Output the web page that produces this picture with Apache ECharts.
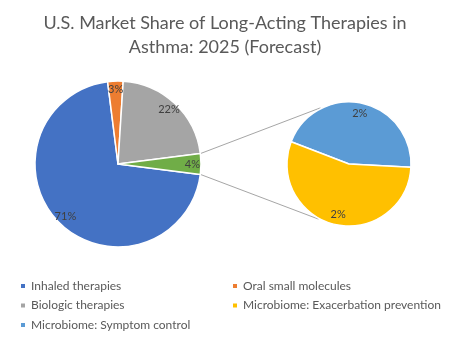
<!DOCTYPE html>
<html><head><meta charset="utf-8">
<script src="https://cdn.jsdelivr.net/npm/echarts@6/dist/echarts.min.js"></script>
<style>html,body{margin:0;padding:0;background:#fff}#c{width:450px;height:342px}</style>
</head><body><div id="c"></div>
<script>
const titleText = 'U.S. Market Share of Long-Acting Therapies in\nAsthma: 2025 (Forecast)';
const mainNames = ['Inhaled therapies', 'Oral small molecules', 'Biologic therapies'];
const mainValues = [71, 3, 22];
const mainColors = ['#4472C4', '#ED7D31', '#A5A5A5'];
const otherName = 'Microbiome';
const otherColor = '#70AD47';
const subNames = ['Microbiome: Symptom control', 'Microbiome: Exacerbation prevention'];
const subValues = [1.8, 2.2];
const subColors = ['#5B9BD5', '#FFC000'];

const FONT = 'Lato';
const mainC = [118, 164], mainR = 83;
const subC = [349, 164], subR = 62;
const otherVal = subValues.reduce((a, b) => a + b, 0);
const total = mainValues.reduce((a, b) => a + b, 0) + otherVal;
const otherDeg = otherVal / total * 360;
const mainStart = -otherDeg / 2;
const subStart = 159;

const mainData = mainNames.map((n, i) => ({ name: n, value: mainValues[i], itemStyle: { color: mainColors[i] } }))
  .concat([{ name: otherName, value: otherVal, itemStyle: { color: otherColor } }]);
const subData = subNames.map((n, i) => ({ name: n, value: subValues[i], itemStyle: { color: subColors[i] } }));

const lblFmt = p => Math.round(p.value / total * 100) + '%';
const lblStyle = { show: true, position: 'inside', formatter: lblFmt, color: '#404040', fontSize: 11, fontFamily: FONT };

function pieBase(center, r, start, data) {
  return { type: 'pie', center: center, radius: [0, r], startAngle: start, clockwise: true, data: data,
    avoidLabelOverlap: false, silent: true, animation: false, legendHoverLink: false,
    itemStyle: { borderColor: '#fff', borderWidth: 1.5 }, label: { show: false }, labelLine: { show: false },
    emphasis: { disabled: true } };
}
function overlay(center, r, frac, start, data) {
  const s = pieBase(center, 2 * frac * r, start, data.map(d => ({ name: d.name, value: d.value, itemStyle: { color: 'rgba(0,0,0,0)' } })));
  s.itemStyle = { color: 'rgba(0,0,0,0)', borderWidth: 0 };
  s.label = lblStyle;
  s.z = 5;
  return s;
}

const rad = a => a * Math.PI / 180;
const pt = (c, r, a) => [c[0] + r * Math.cos(rad(a)), c[1] - r * Math.sin(rad(a))];
const p1 = pt(mainC, mainR, otherDeg / 2), p2 = pt(mainC, mainR, -otherDeg / 2);
const q1 = pt(subC, subR + 1, 117), q2 = pt(subC, subR + 1, -119);

const legendText = { color: '#595959', fontSize: 12, fontFamily: FONT };
const chart = echarts.init(document.getElementById('c'), null, { renderer: 'canvas' });
chart.setOption({
  backgroundColor: '#fff',
  animation: false,
  title: { text: titleText, left: 'center', top: 6,
    textStyle: { fontSize: 18, fontWeight: 'normal', color: '#595959', lineHeight: 24, fontFamily: FONT } },
  legend: [
    { orient: 'vertical', left: 14, top: 275, itemWidth: 6, itemHeight: 6, itemGap: 7.5, icon: 'rect',
      data: [mainNames[0], mainNames[2], subNames[0]], textStyle: legendText, selectedMode: false },
    { orient: 'vertical', left: 226, top: 275, itemWidth: 6, itemHeight: 6, itemGap: 7.5, icon: 'rect',
      data: [mainNames[1], subNames[1]], textStyle: legendText, selectedMode: false }
  ],
  graphic: [
    { type: 'line', shape: { x1: p1[0], y1: p1[1], x2: q1[0], y2: q1[1] }, style: { stroke: '#A6A6A6', lineWidth: 1 }, silent: true },
    { type: 'line', shape: { x1: p2[0], y1: p2[1], x2: q2[0], y2: q2[1] }, style: { stroke: '#A6A6A6', lineWidth: 1 }, silent: true }
  ],
  series: [
    pieBase(mainC, mainR, mainStart, mainData),
    pieBase(subC, subR, subStart, subData),
    overlay(mainC, mainR, 0.86, mainStart, mainData),
    overlay(subC, subR, 0.79, subStart, subData)
  ]
});
</script></body></html>
